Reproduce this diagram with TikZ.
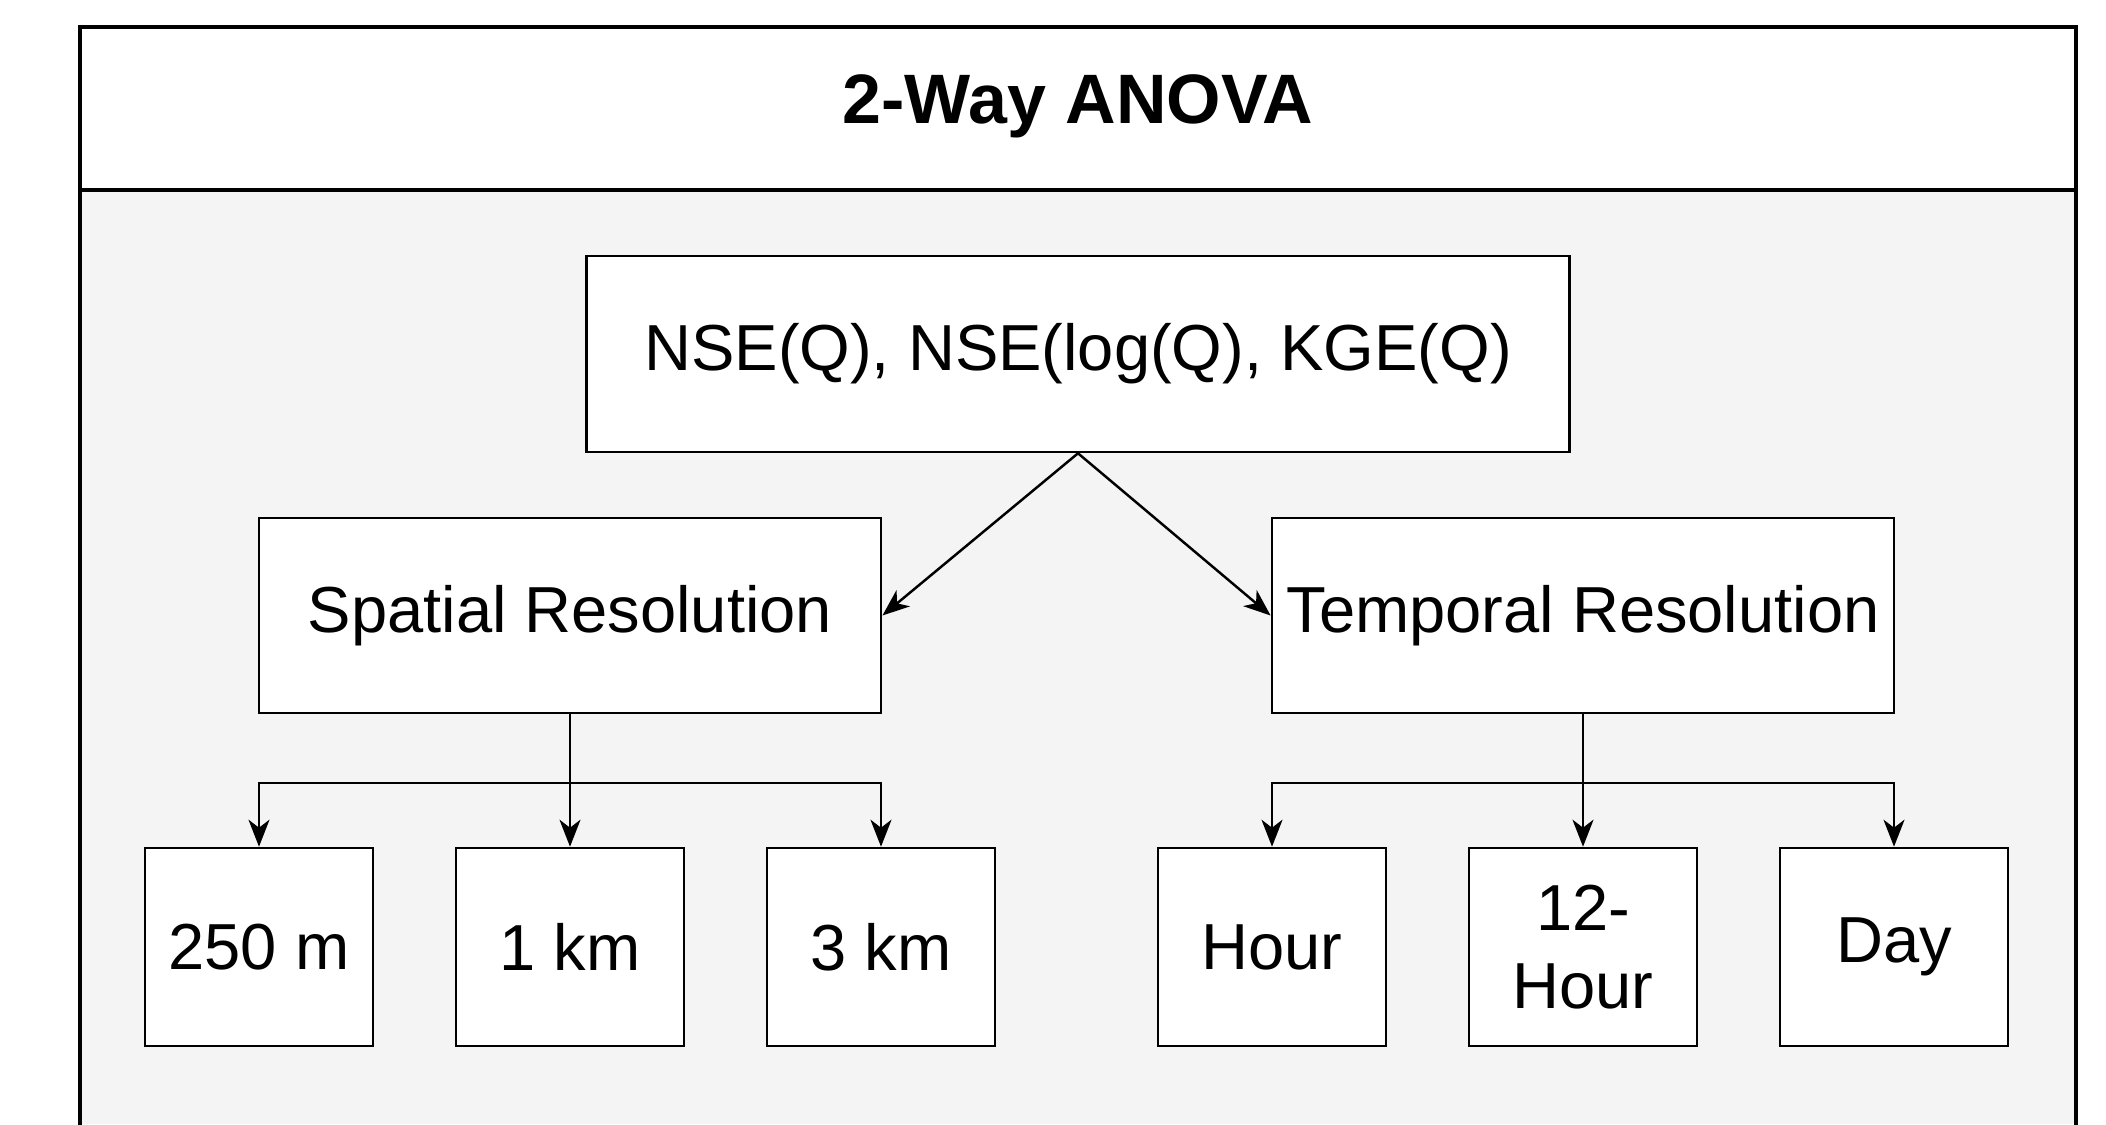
\documentclass[tikz,border=0pt]{standalone}
\usepackage{fontspec}
\setmainfont{Liberation Sans}
\usepackage{xcolor}
\usetikzlibrary{arrows.meta, positioning, calc}

\definecolor{panelgray}{HTML}{F4F4F4}

\begin{document}
\begin{tikzpicture}[x=0.01cm, y=-0.01cm,
    >={Stealth[length=0.27cm, width=0.21cm, inset=0.08cm]},
    font=\fontsize{18.5}{22}\selectfont,
    box/.style={draw, line width=0.7pt, fill=white, inner sep=0pt, align=center},
    wide/.style={box, minimum width=6.22cm, minimum height=1.95cm},
    leaf/.style={box, minimum width=2.28cm, minimum height=1.98cm},
    link/.style={->, line width=0.7pt}]
  \useasboundingbox (0,0) rectangle (2106,1124);
  %% outer panel with title strip
  \fill[panelgray] (80,190) rectangle (2076,1124);
  \fill[white] (80,27) rectangle (2076,190);
  \draw[line width=0.9pt] (80,1130) -- (80,27) -- (2076,27) -- (2076,1130);
  \draw[line width=0.9pt] (80,190) -- (2076,190);
  \node (title) at (1078,106) {\bfseries\fontsize{19.9}{24}\selectfont 2-Way ANOVA};
  %% metrics and the two factors
  \node[box, minimum width=9.82cm, minimum height=1.96cm] (nse) at (1078,354)
    {NSE(Q), NSE(log(Q), KGE(Q)};
  \node[wide] (spatial) at (570,615.5) {Spatial Resolution};
  \node[wide] (temporal) at (1583,615.5) {Temporal Resolution};
  \draw[link] (nse.south) -- (spatial.east);
  \draw[link] (nse.south) -- (temporal.west);
  %% levels
  \node[leaf] (m250) at (259,947) {250 m};
  \node[leaf] (km1) at (570,947) {1 km};
  \node[leaf] (km3) at (881,947) {3 km};
  \node[leaf] (hour) at (1272,947) {Hour};
  \node[leaf] (hour12) at (1583,947) {12-\\Hour};
  \node[leaf] (day) at (1894,947) {Day};
  \coordinate (sjoin) at (570,783);
  \coordinate (tjoin) at (1583,783);
  \draw[line width=0.7pt] (spatial.south) -- (sjoin);
  \draw[line width=0.7pt] (temporal.south) -- (tjoin);
  \foreach \lv in {m250,km1,km3}
    \draw[link] (sjoin) -| (\lv.north);
  \foreach \lv in {hour,hour12,day}
    \draw[link] (tjoin) -| (\lv.north);
\end{tikzpicture}
\end{document}
